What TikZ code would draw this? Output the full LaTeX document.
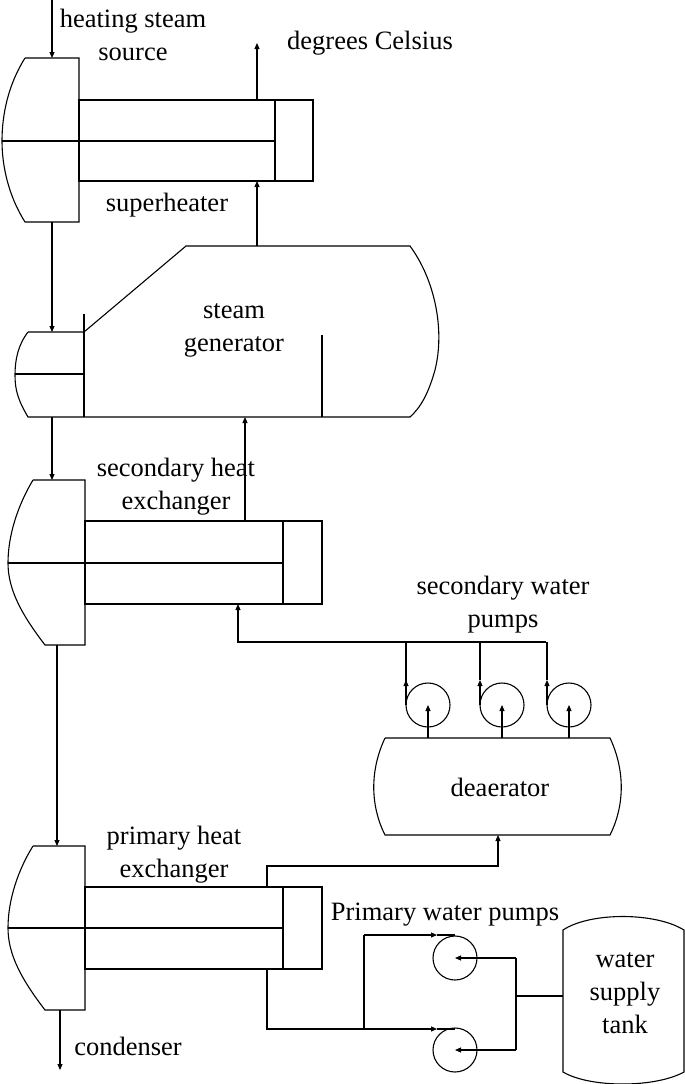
\documentclass[tikz,border=0pt]{standalone}
\usepackage{fontspec}
\setmainfont{Liberation Serif}
\usetikzlibrary{arrows.meta}
\begin{document}
\begin{tikzpicture}[x=1pt,y=-1pt,line width=1.1pt,
  lab/.style={font=\fontsize{26.5}{33}\selectfont,align=center,inner sep=0},
  arr/.style={-{Triangle[length=6pt,width=5pt]}},
  pump/.style={circle,draw,minimum size=44pt,inner sep=0}]
\useasboundingbox (0,0) rectangle (685,1084);
% superheater
\draw (25,58) -- (79,58) -- (79,222) -- (25,222) .. controls (8,195) and (2,165) .. (2,141) .. controls (2,115) and (8,85) .. (25,58);
\draw (79,100) rectangle (275,181) (275,100) rectangle (313,181);
\draw (2,141) -- (275,141);
% steam generator
\draw (28,332) -- (84,332) -- (186,246) -- (410,246) .. controls (435,280) and (445,330) .. (435,370) .. controls (428,395) and (420,408) .. (410,417) -- (28,417) .. controls (18,400) and (15,390) .. (15,375) .. controls (15,360) and (18,345) .. (28,332);
\draw (84,314) -- (84,417) (15,374) -- (84,374) (322,335) -- (322,417);
% secondary hx
\draw (33,480) -- (85,480) -- (85,645) -- (45,645) .. controls (22,615) and (8,590) .. (8,563) .. controls (8,535) and (18,505) .. (33,480);
\draw (85,521) rectangle (283,604) (283,521) rectangle (322,604);
\draw (8,563) -- (283,563);
% primary hx
\draw (33,846) -- (85,846) -- (85,1010) -- (45,1010) .. controls (22,980) and (8,955) .. (8,928) .. controls (8,900) and (18,870) .. (33,846);
\draw (85,887) rectangle (283,969) (283,887) rectangle (322,969);
\draw (8,928) -- (283,928);
% deaerator
\draw (385,738) -- (610,738) .. controls (625,770) and (625,805) .. (610,835) -- (385,835) .. controls (370,805) and (370,770) .. (385,738);
\node[lab] (dea) at (500,787) {deaerator};
% tank
\draw (563,930) .. controls (590,912) and (655,912) .. (684,930) -- (684,1072) .. controls (655,1088) and (590,1088) .. (563,1072) -- cycle;
\node[lab] (tank) at (625,993) {water\\supply\\tank};
% pumps
\node[pump] (p1) at (428,705) {};
\node[pump] (p2) at (502,705) {};
\node[pump] (p3) at (569,705) {};
\node[pump] (q1) at (455,958) {};
\node[pump] (q2) at (455,1050) {};
% labels
\node[lab] at (133,35) {heating steam\\source};
\node[lab] at (370,43) {degrees Celsius};
\node[lab] at (167,205) {superheater};
\node[lab] at (234,330) {steam\\generator};
\node[lab] at (176,487) {secondary heat\\exchanger};
\node[lab] at (503,605) {secondary water\\pumps};
\node[lab] at (174,855) {primary heat\\exchanger};
\node[lab] at (445,915) {Primary water pumps};
\node[lab] at (128,1046) {condenser};
% flows
\draw[arr] (52,0) -- (52,58);
\draw[arr] (257,100) -- (257,43);
\draw[arr] (257,246) -- (257,181);
\draw[arr] (52,222) -- (52,332);
\draw[arr] (52,417) -- (52,480);
\draw[arr] (245,521) -- (245,417);
\draw[arr] (57,645) -- (57,846);
\draw[arr] (60,1010) -- (60,1070);
\draw[arr] (406,705) -- (406,642) -- (238,642) -- (238,604);
\draw (406,642) -- (546,642);
\draw[arr] (480,705) -- (480,680);
\draw (480,680) -- (480,642);
\draw[arr] (547,705) -- (547,680);
\draw (547,680) -- (547,642);
\draw[arr] (406,705) -- (406,680);
\foreach \x in {428,502,569}{\draw[arr] (\x,738) -- (\x,705);}
\draw[arr] (267,887) -- (267,866) -- (498,866) -- (498,835);
\draw (267,969) -- (267,1029) -- (364,1029);
\draw (364,935) -- (364,1029);
\draw[arr] (364,935) -- (437,935);
\draw (437,935) -- (455,935);
\draw[arr] (364,1029) -- (437,1029);
\draw (437,1029) -- (455,1029);
\draw[arr] (516,958) -- (455,958);
\draw[arr] (516,1050) -- (455,1050);
\draw (516,958) -- (516,1050) (516,996) -- (563,996);
\end{tikzpicture}
\end{document}
